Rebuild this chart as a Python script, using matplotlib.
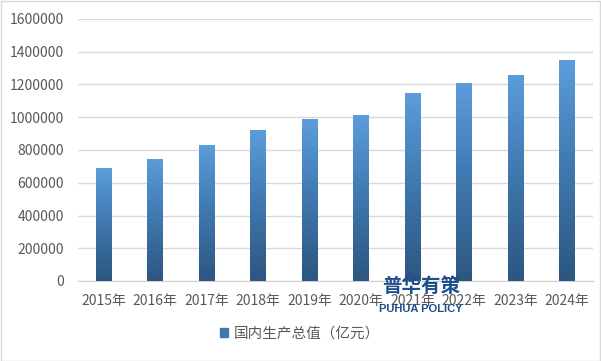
import matplotlib.pyplot as plt
import numpy as np
from matplotlib.patches import Rectangle
from matplotlib.colors import LinearSegmentedColormap

plt.rcParams['font.family'] = ['Noto Sans CJK SC', 'DejaVu Sans']

anios = ['2015年', '2016年', '2017年', '2018年', '2019年', '2020年', '2021年', '2022年', '2023年', '2024年']
pib = [688858, 746395, 832036, 919281, 986515, 1013567, 1149237, 1210207, 1260582, 1349084]
etiqueta = '国内生产总值（亿元）'

fig = plt.figure(figsize=(6.01, 3.61), dpi=100)
ax = fig.add_axes([78 / 601, 80 / 361, 515 / 601, 262 / 361])

x = np.arange(len(anios))
ancho = 0.31
barras = ax.bar(x, pib, width=ancho, color='#4a86c0', label=etiqueta, zorder=2)

# degradado vertical en cada barra
grad = np.linspace(0, 1, 256).reshape(-1, 1)
cmap = LinearSegmentedColormap.from_list('azul', ['#2d5680', '#3f77ae', '#5b9ddb'])
for b in barras:
    x0, y0, w, h = b.get_x(), b.get_y(), b.get_width(), b.get_height()
    im = ax.imshow(grad, cmap=cmap, aspect='auto', origin='lower',
                   extent=[x0, x0 + w, y0, y0 + h], zorder=3)
    im.set_clip_path(b)
    b.set_facecolor('none')

ax.set_xlim(-0.5, len(anios) - 0.5)
ax.set_ylim(0, 1600000)
ax.set_yticks(np.arange(0, 1600001, 200000))
ax.set_yticklabels([str(v) for v in np.arange(0, 1600001, 200000)])
ax.set_xticks(x)
ax.set_xticklabels(anios)
ax.tick_params(axis='both', length=0, labelsize=10, colors='#595959')
ax.tick_params(axis='y', pad=10)
ax.tick_params(axis='x', pad=9)
ax.grid(axis='y', color='#d9d9d9', linewidth=1, zorder=0)
for s in ['top', 'right', 'left']:
    ax.spines[s].set_visible(False)
ax.spines['bottom'].set_color('#d0d0d0')

leg = fig.legend(handles=[Rectangle((0, 0), 1, 1, color='#3f77ae')], labels=[etiqueta],
                 loc='center', bbox_to_anchor=(300 / 601, 1 - 334 / 361), frameon=False,
                 fontsize=10.5, handlelength=0.55, handleheight=0.55, handletextpad=0.4)
for t in leg.get_texts():
    t.set_color('#595959')

# marca de agua
fig.text(421 / 601, 1 - 286 / 361, '普华有策', ha='center', va='center', fontsize=14,
         fontweight='bold', color='#1f4e8c', zorder=10)
fig.text(421 / 601, 1 - 309 / 361, 'PUHUA POLICY', ha='center', va='center', fontsize=8,
         fontweight='bold', color='#1f4e8c', zorder=10,
         family=['Liberation Sans', 'DejaVu Sans'])

fig.patches.append(Rectangle((0.001, 0.001), 0.997, 0.996, transform=fig.transFigure,
                             fill=False, edgecolor='#d9d9d9', linewidth=1))

fig.savefig('out.png', dpi=100)
plt.close(fig)
